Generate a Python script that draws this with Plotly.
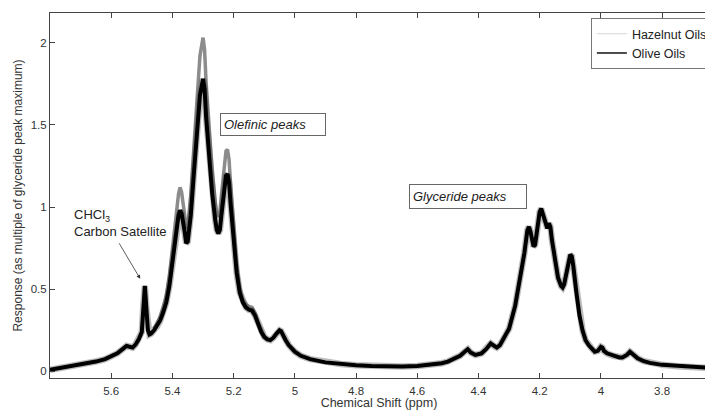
import plotly.graph_objects as go

# ---- data ----
ppm = [5.80, 5.75, 5.70, 5.65, 5.62, 5.60, 5.58, 5.56, 5.55, 5.54, 5.53, 5.52, 5.51, 5.50,
       5.495, 5.49, 5.485, 5.48, 5.475, 5.47, 5.46, 5.45, 5.44, 5.43, 5.42, 5.41, 5.40, 5.39,
       5.38, 5.375, 5.37, 5.36, 5.355, 5.35, 5.34, 5.33, 5.32, 5.31, 5.30, 5.295, 5.29, 5.28,
       5.27, 5.26, 5.255, 5.25, 5.245, 5.24, 5.23, 5.225, 5.22, 5.215, 5.21, 5.20, 5.19, 5.18,
       5.17, 5.16, 5.15, 5.14, 5.13, 5.12, 5.11, 5.10, 5.09, 5.08, 5.07, 5.06, 5.05, 5.045,
       5.04, 5.03, 5.02, 5.00, 4.98, 4.95, 4.90, 4.85, 4.80, 4.75, 4.70, 4.65, 4.60, 4.55,
       4.52, 4.50, 4.48, 4.46, 4.445, 4.435, 4.425, 4.41, 4.39, 4.375, 4.36, 4.35, 4.34, 4.33,
       4.32, 4.30, 4.28, 4.26, 4.25, 4.24, 4.235, 4.23, 4.22, 4.215, 4.21, 4.20, 4.195, 4.19,
       4.18, 4.175, 4.17, 4.165, 4.16, 4.15, 4.14, 4.13, 4.125, 4.12, 4.11, 4.10, 4.095, 4.09,
       4.08, 4.07, 4.06, 4.05, 4.04, 4.03, 4.02, 4.01, 4.00, 3.995, 3.99, 3.98, 3.96, 3.94,
       3.93, 3.915, 3.905, 3.895, 3.88, 3.86, 3.84, 3.80, 3.75, 3.70, 3.65]

olive = [0.010, 0.025, 0.040, 0.060, 0.075, 0.090, 0.110, 0.140, 0.155, 0.150, 0.145, 0.165, 0.195, 0.240,
         0.400, 0.520, 0.380, 0.250, 0.225, 0.230, 0.250, 0.275, 0.310, 0.360, 0.420, 0.520, 0.660, 0.830,
         0.950, 0.980, 0.960, 0.850, 0.780, 0.790, 0.950, 1.200, 1.450, 1.680, 1.780, 1.720, 1.550, 1.300,
         1.080, 0.920, 0.860, 0.840, 0.860, 0.950, 1.120, 1.190, 1.200, 1.150, 1.020, 0.800, 0.600, 0.480,
         0.420, 0.390, 0.375, 0.370, 0.340, 0.290, 0.240, 0.210, 0.195, 0.190, 0.205, 0.230, 0.250, 0.245,
         0.225, 0.190, 0.160, 0.120, 0.095, 0.075, 0.055, 0.045, 0.038, 0.033, 0.030, 0.030, 0.033, 0.040,
         0.050, 0.060, 0.075, 0.095, 0.120, 0.135, 0.115, 0.100, 0.110, 0.135, 0.170, 0.155, 0.145, 0.160,
         0.190, 0.260, 0.400, 0.600, 0.720, 0.860, 0.880, 0.850, 0.760, 0.770, 0.850, 0.970, 0.990, 0.960,
         0.880, 0.870, 0.900, 0.880, 0.800, 0.670, 0.570, 0.520, 0.510, 0.530, 0.620, 0.710, 0.700, 0.640,
         0.480, 0.340, 0.250, 0.190, 0.160, 0.140, 0.120, 0.125, 0.150, 0.145, 0.125, 0.110, 0.095, 0.085,
         0.085, 0.100, 0.120, 0.105, 0.080, 0.062, 0.052, 0.040, 0.032, 0.026, 0.022]

# hazelnut spectra differ visibly only in the olefinic region (elsewhere hidden under olive band)
ppm_hz = [5.46, 5.45, 5.44, 5.43, 5.42, 5.41, 5.40, 5.39, 5.38, 5.375, 5.37, 5.36, 5.355, 5.35,
          5.34, 5.33, 5.32, 5.31, 5.30, 5.295, 5.29, 5.28, 5.27, 5.26, 5.255, 5.25, 5.245, 5.24,
          5.23, 5.225, 5.22, 5.215, 5.21, 5.20, 5.19, 5.18, 5.17, 5.16, 5.15, 5.14, 5.13, 5.12,
          5.11, 5.10]
hazelnut = [0.26, 0.29, 0.33, 0.39, 0.46, 0.58, 0.75, 0.95, 1.08, 1.12, 1.09, 0.95, 0.87, 0.88,
            1.07, 1.36, 1.65, 1.92, 2.03, 1.96, 1.76, 1.47, 1.22, 1.03, 0.96, 0.94, 0.97, 1.07,
            1.26, 1.34, 1.35, 1.29, 1.14, 0.88, 0.65, 0.51, 0.44, 0.41, 0.395, 0.39, 0.355, 0.30,
            0.25, 0.215]

x_ticks = [5.6, 5.4, 5.2, 5.0, 4.8, 4.6, 4.4, 4.2, 4.0, 3.8]
x_tick_labels = ["5.6", "5.4", "5.2", "5", "4.8", "4.6", "4.4", "4.2", "4", "3.8"]
y_ticks = [0, 0.5, 1, 1.5, 2]
y_tick_labels = ["0", "0.5", "1", "1.5", "2"]
legend_names = ["Hazelnut Oils", "Olive Oils"]

FONT = "Liberation Sans, Arial, Helvetica, sans-serif"

fig = go.Figure()
fig.add_trace(go.Scatter(x=ppm_hz, y=hazelnut, mode="lines", showlegend=False,
                         line=dict(color="#8c8c8c", width=3.5), hoverinfo="skip"))
fig.add_trace(go.Scatter(x=ppm, y=olive, mode="lines", showlegend=False,
                         line=dict(color="rgba(60,60,60,0.35)", width=6.5), hoverinfo="skip"))
fig.add_trace(go.Scatter(x=ppm, y=olive, mode="lines", showlegend=False,
                         line=dict(color="#000000", width=4), hoverinfo="skip"))
# legend entries
fig.add_trace(go.Scatter(x=[None], y=[None], mode="lines", name=legend_names[0],
                         line=dict(color="#d4d4d4", width=1)))
fig.add_trace(go.Scatter(x=[None], y=[None], mode="lines", name=legend_names[1],
                         line=dict(color="#111111", width=1.5)))

ann_font = dict(family=FONT, size=13, color="#222")
fig.add_annotation(x=5.071, y=1.499, xref="x", yref="y", text="<i>Olefinic peaks</i>",
                   showarrow=False, width=98, height=15, borderpad=3, align="left",
                   bordercolor="#666", borderwidth=1, bgcolor="white", font=ann_font)
fig.add_annotation(x=4.435, y=1.066, xref="x", yref="y", text="<i>Glyceride peaks</i>",
                   showarrow=False, width=110, height=17, borderpad=3, align="left",
                   bordercolor="#666", borderwidth=1, bgcolor="white", font=ann_font)
fig.add_annotation(x=5.729, y=1.014, xref="x", yref="y",
                   text="CHCl<sub>3</sub><br>Carbon Satellite",
                   showarrow=False, xanchor="left", yanchor="top", align="left", font=ann_font)
fig.add_annotation(x=5.505, y=0.563, xref="x", yref="y", text="", showarrow=True,
                   ax=-22, ay=-37, arrowhead=2, arrowsize=1, arrowwidth=0.8, arrowcolor="#333")

axis_common = dict(showgrid=False, zeroline=False, showline=True, linecolor="#444", linewidth=1,
                   ticks="inside", ticklen=5, tickcolor="#444",
                   tickfont=dict(family=FONT, size=11.5, color="#333"))
fig.update_xaxes(range=[5.80, 3.65], tickvals=x_ticks, ticktext=x_tick_labels, mirror="ticks",
                 ticklabelstandoff=2,
                 title=dict(text="Chemical Shift (ppm)", font=dict(family=FONT, size=12.5, color="#333"),
                            standoff=4), **axis_common)
fig.update_yaxes(range=[-0.04, 2.18], tickvals=y_ticks, ticktext=y_tick_labels,
                 title=dict(text="Response (as multiple of glyceride peak maximum)",
                            font=dict(family=FONT, size=12, color="#333"), standoff=5),
                 **axis_common)

# page body has an 8px margin, so the figure is sized to fit inside the 713x410 window
fig.update_layout(
    width=705, height=402,
    margin=dict(l=42, r=0, t=5, b=32),
    paper_bgcolor="white", plot_bgcolor="white",
    font=dict(family=FONT, size=11, color="#333"),
    legend=dict(x=0.822, y=0.986, xanchor="left", yanchor="top",
                bordercolor="#777", borderwidth=1, bgcolor="white",
                font=dict(family=FONT, size=12.5, color="#222"),
                itemwidth=30, tracegroupgap=0),
)

fig.write_html("out.html")
